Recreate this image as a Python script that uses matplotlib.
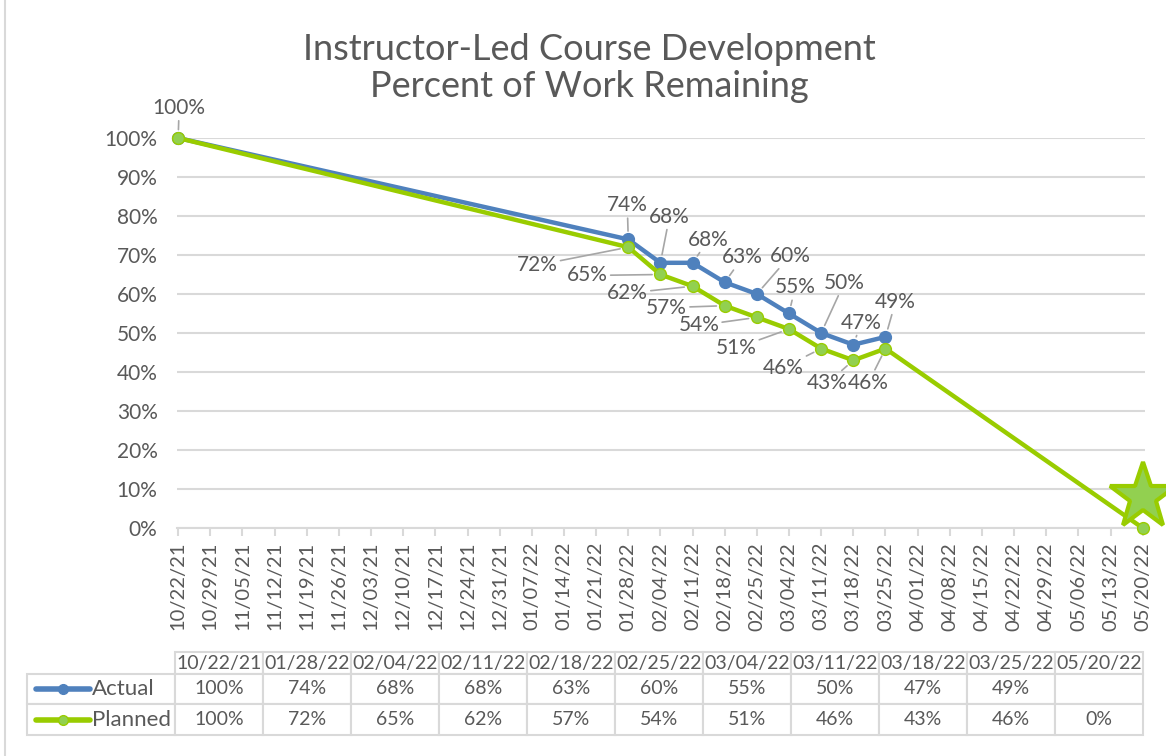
import numpy as np
import pandas as pd
import matplotlib
matplotlib.use("Agg")
import matplotlib.pyplot as plt
import matplotlib.dates as mdates
import matplotlib.transforms as mtransforms
from matplotlib.ticker import FuncFormatter
from matplotlib.table import Table

# data
dates = ["10/22/21", "01/28/22", "02/04/22", "02/11/22", "02/18/22", "02/25/22",
         "03/04/22", "03/11/22", "03/18/22", "03/25/22", "05/20/22"]
actual = [100, 74, 68, 68, 63, 60, 55, 50, 47, 49, np.nan]
planned = [100, 72, 65, 62, 57, 54, 51, 46, 43, 46, 0]

# label offsets in pixels (dx, dy) from each point
actual_offsets = [(1, 30), (-1, 34), (9, 46), (16, 23), (18, 25), (33, 38),
                  (6, 26), (23, 50), (8, 22), (10, 35), None]
planned_offsets = [None, (-91, -18), (-73, -1), (-65, -7), (-58, -2), (-58, -8),
                   (-53, -19), (-38, -19), (-26, -23), (-17, -34), None]

BLUE = "#4f81bd"
GREEN = "#99cc00"
GREEN_FILL = "#92d050"
TXT = "#595959"
GRID = "#d9d9d9"
FONT = "Lato"

plt.rcParams["font.family"] = FONT

x = pd.to_datetime(dates, format="%m/%d/%y")
weeks = pd.date_range(x[0], x[-1], freq="7D")

W, H = 1166, 756
fig = plt.figure(figsize=(W / 100, H / 100), dpi=100)
ax = fig.add_axes([177 / W, 1 - 528 / H, (1145 - 177) / W, 390 / H])

ax.plot(x, actual, "-o", color=BLUE, lw=3.2, ms=8.5, mfc=BLUE, mec=BLUE,
        clip_on=False, zorder=3)
ax.plot(x, planned, "-o", color=GREEN, lw=3.2, ms=8.5, mfc=GREEN_FILL, mec=GREEN,
        clip_on=False, zorder=4)

# star at the finish
star_tr = mtransforms.offset_copy(ax.transData, fig=fig, x=0, y=31, units="dots")
ax.plot(x[-1:], planned[-1:], marker="*", ms=50, mfc=GREEN_FILL, mec=GREEN,
        mew=3, ls="none", transform=star_tr, clip_on=False, zorder=5)

# data labels with leader lines
for vals, offs in [(actual, actual_offsets), (planned, planned_offsets)]:
    for xi, v, off in zip(x, vals, offs):
        if off is None or np.isnan(v):
            continue
        ax.annotate(f"{v:.0f}%", (xi, v), xytext=off, textcoords="offset pixels",
                    ha="center", va="center", fontsize=15, color=TXT,
                    arrowprops=dict(arrowstyle="-", color="#a6a6a6", lw=1.2,
                                    shrinkA=0, shrinkB=6),
                    annotation_clip=False, zorder=6)

ax.set_xlim(x[0] - pd.Timedelta(hours=6), x[-1] + pd.Timedelta(hours=12))
ax.set_ylim(0, 100)
ax.set_xticks(weeks)
ax.xaxis.set_major_formatter(mdates.DateFormatter("%m/%d/%y"))
ax.set_yticks(np.arange(0, 101, 10))
ax.yaxis.set_major_formatter(FuncFormatter(lambda v, p: f"{v:.0f}%"))
ax.grid(axis="y", color=GRID, lw=1.5)
ax.set_axisbelow(True)
for s in ["top", "right", "left"]:
    ax.spines[s].set_visible(False)
ax.spines["bottom"].set_color(GRID)
ax.spines["bottom"].set_linewidth(1.5)
ax.tick_params(axis="x", colors=GRID, length=6, width=1.5, labelcolor=TXT,
               labelsize=14.5, labelrotation=90, pad=4)
ax.tick_params(axis="y", length=0, labelcolor=TXT, labelsize=15, pad=14)

fig.text(589 / W, 1 - 68 / H, "Instructor-Led Course Development\nPercent of Work Remaining",
         ha="center", va="center", fontsize=26, color=TXT, linespacing=1.15)

# data table below the chart (cell sizes in figure fractions)
tax = fig.add_axes([0, 0, 1, 1])
tax.set_xlim(0, W)
tax.set_ylim(H, 0)
tax.axis("off")

col_w, lab_w = 88 / W, 148 / W
heights = [22 / H, 30 / H, 31 / H]
tbl = Table(tax, bbox=[175 / W, 1 - 735 / H, 11 * col_w, sum(heights)])
rows = [dates,
        [("" if np.isnan(v) else f"{v:.0f}%") for v in actual],
        [f"{v:.0f}%" for v in planned]]
for r, row in enumerate(rows):
    if r > 0:
        tbl.add_cell(r, -1, lab_w, heights[r], text="", edgecolor=GRID)
    for c, t in enumerate(row):
        tbl.add_cell(r, c, col_w, heights[r], text=t, loc="center", edgecolor=GRID)
tbl.auto_set_font_size(False)
tbl.set_fontsize(14)
for cell in tbl.get_celld().values():
    cell.set_linewidth(1.5)
    cell.get_text().set_color(TXT)
tax.add_table(tbl)

for name, color, fill, ypix in [("Actual", BLUE, BLUE, 689), ("Planned", GREEN, GREEN_FILL, 720)]:
    tax.plot([36, 90], [ypix, ypix], color=color, lw=4, solid_capstyle="round")
    tax.plot([63], [ypix], "o", ms=7, mfc=fill, mec=color)
    tax.text(92, ypix, name, ha="left", va="center", fontsize=16, color=TXT)

tax.plot([5, 5], [0, H], color=GRID, lw=1.5)

fig.savefig("out.png", dpi=100)
